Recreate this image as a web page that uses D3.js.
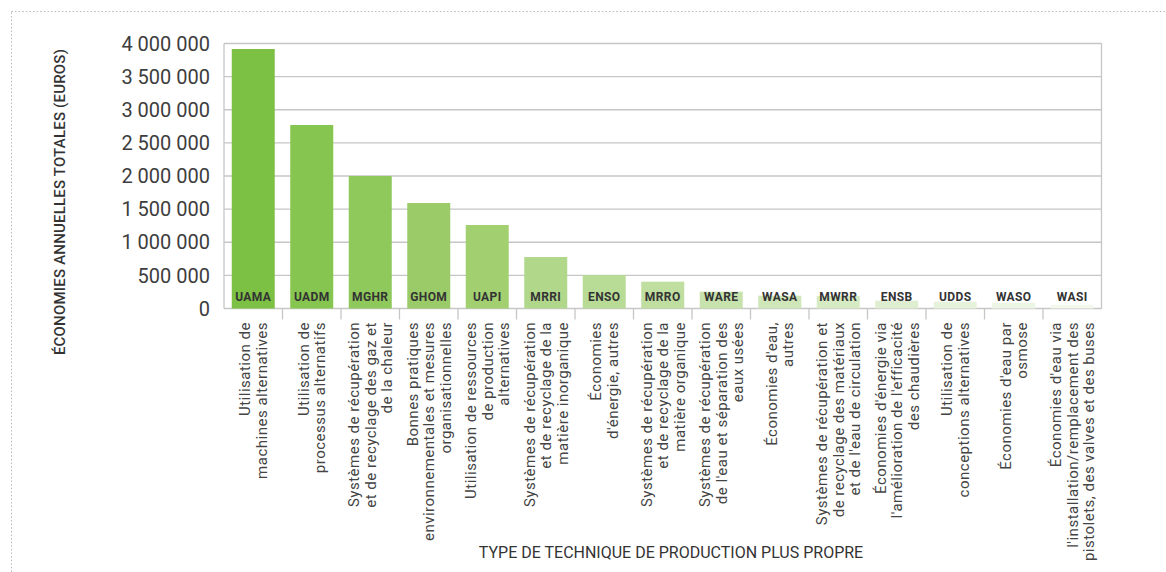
<!DOCTYPE html>
<html>
<head>
<meta charset="utf-8">
<script src="https://cdn.jsdelivr.net/npm/d3@7"></script>
<style>
  body { margin: 0; background: #fff; }
  text { font-family: Roboto, "DejaVu Sans", sans-serif; }
</style>
</head>
<body>
<div id="chart"></div>
<script>
// codes shown inside the bars
var codes = ["UAMA", "UADM", "MGHR", "GHOM", "UAPI", "MRRI", "ENSO", "MRRO",
  "WARE", "WASA", "MWRR", "ENSB", "UDDS", "WASO", "WASI"];

// annual savings (euros)
var savings = [3917000, 2770000, 2000000, 1592000, 1260000, 777000, 505000, 405000,
  254000, 193000, 189000, 118000, 103000, 88000, 57000];

// category labels, one entry per line
var labels = [
  ["Utilisation de", "machines alternatives"],
  ["Utilisation de", "processus alternatifs"],
  ["Systèmes de récupération", "et de recyclage des gaz et", "de la chaleur"],
  ["Bonnes pratiques", "environnementales et mesures", "organisationnelles"],
  ["Utilisation de ressources", "de production", "alternatives"],
  ["Systèmes de récupération", "et de recyclage de la", "matière inorganique"],
  ["Économies", "d'énergie, autres"],
  ["Systèmes de récupération", "et de recyclage de la", "matière organique"],
  ["Systèmes de récupération", "de l'eau et séparation des", "eaux usées"],
  ["Économies d'eau,", "autres"],
  ["Systèmes de récupération et", "de recyclage des matériaux", "et de l'eau de circulation"],
  ["Économies d'énergie via", "l'amélioration de l'efficacité", "des chaudières"],
  ["Utilisation de", "conceptions alternatives"],
  ["Économies d'eau par", "osmose"],
  ["Économies d'eau via", "l'installation/remplacement des", "pistolets, des valves et des buses"]
];

var barColors = ["#7cc144", "#86c54f", "#8fc85b", "#9bcb69", "#a2d071", "#b1d78b",
  "#b8db96", "#bfdea0", "#c7e2ad", "#cfe6b9", "#d6eac4", "#dfeed1", "#e6f2dc",
  "#edf6e5", "#f2f8ec"];

var yTicks = [0, 500000, 1000000, 1500000, 2000000, 2500000, 3000000, 3500000, 4000000];

var svgWidth = 1166;
var svgHeight = 572;

var plot = { left: 224, right: 1101.5, top: 43.5, bottom: 308.5 };

var svg = d3.select("#chart")
  .append("svg")
  .attr("width", svgWidth)
  .attr("height", svgHeight);

// dotted frame (runs off the right and bottom)
svg.append("rect")
  .attr("x", 11.5)
  .attr("y", 11.5)
  .attr("width", 1300)
  .attr("height", 800)
  .attr("fill", "none")
  .attr("stroke", "#b4b4b4")
  .attr("stroke-width", 1)
  .attr("stroke-dasharray", "1.4,2.2");

var fr = d3.formatLocale({ decimal: ",", thousands: " ", grouping: [3], currency: ["", " €"] });
var fmt = fr.format(",d");

var x = d3.scaleBand()
  .domain(codes)
  .range([plot.left, plot.right])
  .paddingInner(0.265)
  .paddingOuter(0.1325);

var y = d3.scaleLinear()
  .domain([0, 4000000])
  .range([plot.bottom, plot.top]);

var step = x.step();
var gap = step - x.bandwidth();

// gridlines
svg.append("g")
  .selectAll("line")
  .data(yTicks)
  .enter()
  .append("line")
  .attr("x1", plot.left)
  .attr("x2", plot.right)
  .attr("y1", d => y(d))
  .attr("y2", d => y(d))
  .attr("stroke", "#c6c6c6")
  .attr("stroke-width", 1.3);

// side lines of the plot box
svg.append("g")
  .selectAll("line")
  .data([plot.left, plot.right])
  .enter()
  .append("line")
  .attr("x1", d => d)
  .attr("x2", d => d)
  .attr("y1", y(4000000))
  .attr("y2", y(0))
  .attr("stroke", "#c6c6c6")
  .attr("stroke-width", 1.3);

// tick marks between categories
svg.append("g")
  .selectAll("line")
  .data(codes.slice(1))
  .enter()
  .append("line")
  .attr("x1", d => x(d) - gap / 2)
  .attr("x2", d => x(d) - gap / 2)
  .attr("y1", y(0))
  .attr("y2", y(0) + 11)
  .attr("stroke", "#c6c6c6")
  .attr("stroke-width", 1.3);

// y tick labels
svg.append("g")
  .selectAll("text")
  .data(yTicks)
  .enter()
  .append("text")
  .attr("x", 210)
  .attr("y", d => y(d))
  .attr("dy", "0.36em")
  .attr("text-anchor", "end")
  .attr("font-size", "20px")
  .attr("fill", "#3d3d3d")
  .text(d => fmt(d));

// bars
svg.append("g")
  .selectAll("rect")
  .data(codes)
  .enter()
  .append("rect")
  .attr("x", d => x(d))
  .attr("width", x.bandwidth())
  .attr("y", (d, i) => y(savings[i]))
  .attr("height", (d, i) => y(0) - y(savings[i]))
  .attr("fill", (d, i) => barColors[i]);

// codes inside bars
svg.append("g")
  .selectAll("text")
  .data(codes)
  .enter()
  .append("text")
  .attr("x", d => x(d) + x.bandwidth() / 2)
  .attr("y", 300.5)
  .attr("text-anchor", "middle")
  .attr("font-size", "12px")
  .attr("font-weight", "bold")
  .attr("letter-spacing", "0.4px")
  .attr("fill", "#333")
  .text(d => d);

// rotated category labels
var lineH = 16.5;
var catLabels = svg.append("g")
  .selectAll("text")
  .data(codes)
  .enter()
  .append("text")
  .attr("transform", d => `translate(${x(d) + x.bandwidth() / 2}, 322) rotate(-90)`)
  .attr("text-anchor", "end")
  .attr("font-size", "15px")
  .attr("letter-spacing", "0.5px")
  .attr("fill", "#444");

catLabels.each(function(d, i) {
  var lines = labels[i];
  var t = d3.select(this);
  lines.forEach(function(line, j) {
    t.append("tspan")
      .attr("x", 0)
      .attr("y", (j - (lines.length - 1) / 2) * lineH)
      .attr("dy", "0.35em")
      .text(line);
  });
});

// y axis title
svg.append("text")
  .attr("transform", "translate(60, 202) rotate(-90)")
  .attr("text-anchor", "middle")
  .attr("dy", "0.35em")
  .attr("font-size", "15px")
  .attr("font-weight", 500)
  .attr("letter-spacing", "0.2px")
  .attr("fill", "#333")
  .text("ÉCONOMIES ANNUELLES TOTALES (EUROS)");

// x axis title
svg.append("text")
  .attr("x", 671)
  .attr("y", 558)
  .attr("text-anchor", "middle")
  .attr("font-size", "16px")
  .attr("fill", "#333")
  .text("TYPE DE TECHNIQUE DE PRODUCTION PLUS PROPRE");
</script>
</body>
</html>
